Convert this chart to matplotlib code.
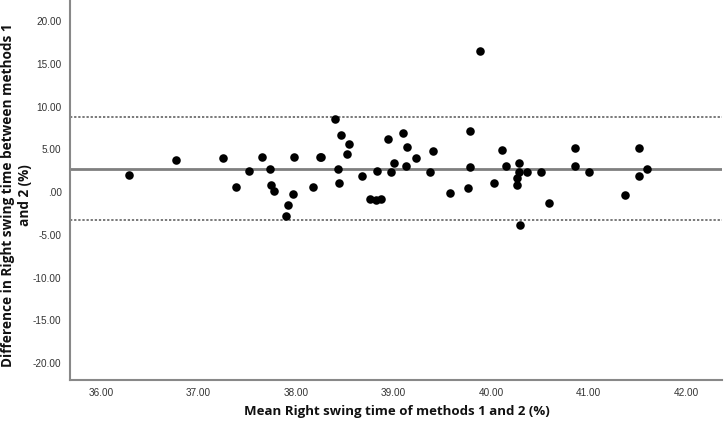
import matplotlib
matplotlib.use("Agg")
import matplotlib.pyplot as plt

mean_vals = [36.29, 36.77, 37.25, 37.38, 37.52, 37.65, 37.73, 37.74, 37.77, 37.92,
             37.90, 37.97, 37.98, 38.17, 38.25, 38.26, 38.40, 38.46, 38.54, 38.52,
             38.43, 38.44, 38.68, 38.76, 38.82, 38.87, 38.83, 38.94, 38.97, 39.00,
             39.10, 39.14, 39.13, 39.23, 39.37, 39.40, 39.58, 39.78, 39.78, 39.76,
             39.89, 40.03, 40.11, 40.15, 40.29, 40.29, 40.27, 40.27, 40.30, 40.37,
             40.51, 40.60, 40.86, 40.86, 41.01, 41.37, 41.52, 41.52, 41.60]
diff_vals = [2.03, 3.78, 3.98, 0.62, 2.46, 4.17, 2.69, 0.82, 0.15, -1.49,
             -2.77, -0.23, 4.17, 0.59, 4.17, 4.10, 8.58, 6.74, 5.69, 4.45,
             2.69, 1.09, 1.94, -0.82, -0.90, -0.82, 2.46, 6.28, 2.34, 3.43,
             6.98, 5.27, 3.04, 4.05, 2.41, 4.84, -0.05, 7.18, 2.93, 0.54,
             16.49, 1.05, 4.99, 3.08, 3.40, 2.41, 1.71, 0.89, -3.83, 2.38,
             2.41, -1.22, 5.11, 3.04, 2.38, -0.28, 5.19, 1.91, 2.73]
mean_diff = 2.75
upper_loa = 8.8
lower_loa = -3.3
x_ticks = [36, 37, 38, 39, 40, 41, 42]
y_ticks = [-20, -15, -10, -5, 0, 5, 10, 15, 20]
x_label = "Mean Right swing time of methods 1 and 2 (%)"
y_label = "Difference in Right swing time between methods 1\nand 2 (%)"


def fmt(v):
    s = f"{v:.2f}"
    if s == "0.00":
        return ".00"
    return s


W, H = 724, 425
fig = plt.figure(figsize=(W / 100, H / 100), dpi=100)
ax = fig.add_axes([70 / W, 45 / H, 652 / W, 380 / H])

ax.axhline(mean_diff, color="#7f7f7f", lw=2.0, zorder=1)
ax.axhline(upper_loa, color="#555555", lw=1.1, ls=(0, (1.5, 1.2)), zorder=1)
ax.axhline(lower_loa, color="#555555", lw=1.1, ls=(0, (1.5, 1.2)), zorder=1)
ax.scatter(mean_vals, diff_vals, s=38, color="black", zorder=3, linewidths=0)

ax.set_xlim(35.68, 42.37)
ax.set_ylim(-22, 22.5)
ax.set_xticks(x_ticks)
ax.set_xticklabels([fmt(v) for v in x_ticks])
ax.set_yticks(y_ticks)
ax.set_yticklabels([fmt(v) for v in y_ticks])
ax.tick_params(length=0, labelsize=7.2, labelcolor="#333333", pad=6)
for lbl in ax.get_xticklabels() + ax.get_yticklabels():
    lbl.set_family("Liberation Sans")

for side in ["top", "right"]:
    ax.spines[side].set_visible(False)
for side in ["left", "bottom"]:
    ax.spines[side].set_color("#888888")
    ax.spines[side].set_linewidth(1.5)

fig.text(397 / W, 1 - 411 / H, x_label, fontsize=9.5, fontweight="bold",
         family="Open Sans", color="#111111", ha="center", va="center")
fig.text(16.5 / W, 1 - 195 / H, y_label, fontsize=9.8, fontweight="bold",
         family="Open Sans", color="#111111", ha="center", va="center",
         rotation=90, multialignment="center", linespacing=1.2)

fig.savefig("out.png", dpi=100)
